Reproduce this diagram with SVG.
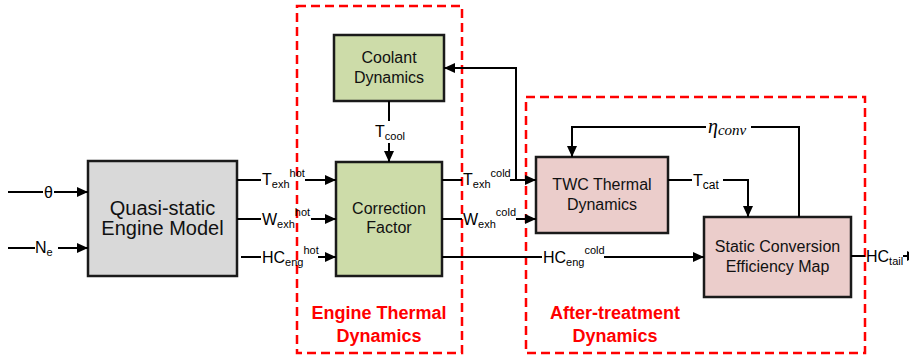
<svg xmlns="http://www.w3.org/2000/svg" width="909" height="360" viewBox="0 0 909 360">
<defs>
<marker id="arr" markerUnits="userSpaceOnUse" markerWidth="11" markerHeight="10" refX="11" refY="5" orient="auto">
<path d="M0,0 L11,5 L0,10 z" fill="#000"/>
</marker>
<style>
.box{stroke:#1a1a1a;stroke-width:2.5}
.gray{fill:#d9d9d9}
.green{fill:#cddca9}
.pink{fill:#ebcdcb}
.region{fill:none;stroke:#ff0000;stroke-width:2.5;stroke-dasharray:9 5}
.con{fill:none;stroke:#000;stroke-width:2}
.t{font-family:"Liberation Sans",Arial,sans-serif;fill:#111}
.bt{font-family:"Liberation Sans",Arial,sans-serif;font-size:16px;fill:#111;text-anchor:middle}
.lbl{font-family:"Liberation Sans",Arial,sans-serif;font-size:16px;fill:#000}
.sm{font-size:11px}
.rt{font-family:"Liberation Sans",Arial,sans-serif;font-size:18px;font-weight:bold;fill:#ff0000;text-anchor:middle}
.math{font-family:"Liberation Serif","Times New Roman",serif;font-style:italic;fill:#000}
</style>
</defs>
<rect width="909" height="360" fill="#fff"/>

<g id="region-engine">
<rect class="region" x="297" y="6" width="165" height="347"/>
<text class="rt" x="379" y="319">Engine Thermal</text>
<text class="rt" x="379" y="342">Dynamics</text>
</g>
<g id="region-aftertreatment">
<rect class="region" x="526" y="97" width="339" height="256"/>
<text class="rt" x="615" y="319">After-treatment</text>
<text class="rt" x="615" y="342">Dynamics</text>
</g>

<g id="engine-model">
<rect class="box gray" x="88" y="161" width="149" height="115"/>
<text class="t" x="162.5" y="215" font-size="20" text-anchor="middle">Quasi-static</text>
<text class="t" x="162.5" y="235" font-size="20" text-anchor="middle">Engine Model</text>
</g>
<g id="coolant-dynamics">
<rect class="box green" x="334" y="35" width="110" height="66"/>
<text class="bt" x="389" y="63">Coolant</text>
<text class="bt" x="389" y="83">Dynamics</text>
</g>
<g id="correction-factor">
<rect class="box green" x="336" y="162" width="106" height="114"/>
<text class="bt" x="389" y="214">Correction</text>
<text class="bt" x="389" y="233">Factor</text>
</g>
<g id="twc-thermal">
<rect class="box pink" x="536" y="157" width="132" height="76"/>
<text class="bt" x="602" y="190">TWC Thermal</text>
<text class="bt" x="602" y="210">Dynamics</text>
</g>
<g id="static-conversion">
<rect class="box pink" x="704" y="217" width="147" height="80"/>
<text class="bt" x="777.5" y="252">Static Conversion</text>
<text class="bt" x="777.5" y="272">Efficiency Map</text>
</g>

<g id="connectors">
<!-- inputs -->
<line class="con" x1="8" y1="192" x2="43" y2="192"/>
<line class="con" x1="54" y1="192" x2="88" y2="192" marker-end="url(#arr)"/>
<text class="lbl" x="48.5" y="198" text-anchor="middle">θ</text>
<line class="con" x1="8" y1="248" x2="35" y2="248"/>
<line class="con" x1="58" y1="248" x2="88" y2="248" marker-end="url(#arr)"/>
<text class="lbl" x="35" y="253">N<tspan class="sm" dy="3">e</tspan></text>

<!-- engine to correction -->
<line class="con" x1="237" y1="180" x2="261" y2="180"/>
<line class="con" x1="305" y1="180" x2="336" y2="180" marker-end="url(#arr)"/>
<text class="lbl" x="262" y="185">T<tspan class="sm" dy="3">exh</tspan><tspan class="sm" dy="-11">hot</tspan></text>

<line class="con" x1="237" y1="219" x2="261" y2="219"/>
<line class="con" x1="311" y1="219" x2="336" y2="219" marker-end="url(#arr)"/>
<text class="lbl" x="262" y="225">W<tspan class="sm" dy="3">exh</tspan><tspan class="sm" dy="-12">hot</tspan></text>

<line class="con" x1="241" y1="257" x2="261" y2="257"/>
<line class="con" x1="318" y1="257" x2="336" y2="257" marker-end="url(#arr)"/>
<text class="lbl" x="262" y="263">HC<tspan class="sm" dy="3">eng</tspan><tspan class="sm" dy="-12">hot</tspan></text>

<!-- coolant to correction -->
<line class="con" x1="389" y1="101" x2="389" y2="121"/>
<line class="con" x1="389" y1="143" x2="389" y2="162" marker-end="url(#arr)"/>
<text class="lbl" x="375" y="137">T<tspan class="sm" dy="3">cool</tspan></text>

<!-- correction to TWC -->
<line class="con" x1="442" y1="180" x2="462" y2="180"/>
<line class="con" x1="510" y1="180" x2="536" y2="180" marker-end="url(#arr)"/>
<text class="lbl" x="463" y="185">T<tspan class="sm" dy="3">exh</tspan><tspan class="sm" dy="-11">cold</tspan></text>

<line class="con" x1="442" y1="219" x2="462" y2="219"/>
<line class="con" x1="516" y1="219" x2="536" y2="219" marker-end="url(#arr)"/>
<text class="lbl" x="463" y="225">W<tspan class="sm" dy="3">exh</tspan><tspan class="sm" dy="-12">cold</tspan></text>

<!-- feedback to coolant -->
<polyline class="con" points="516,180 516,68 444,68" marker-end="url(#arr)"/>

<!-- HC eng cold -->
<line class="con" x1="442" y1="257" x2="542" y2="257"/>
<line class="con" x1="604" y1="257" x2="704" y2="257" marker-end="url(#arr)"/>
<text class="lbl" x="543" y="263">HC<tspan class="sm" dy="3">eng</tspan><tspan class="sm" dy="-12">cold</tspan></text>

<!-- T cat -->
<line class="con" x1="668" y1="180" x2="692" y2="180"/>
<polyline class="con" points="723,180 748,180 748,217" marker-end="url(#arr)"/>
<text class="lbl" x="693" y="186">T<tspan font-size="12" dy="3">cat</tspan></text>

<!-- eta conv feedback -->
<polyline class="con" points="799,217 799,127 751,127"/>
<polyline class="con" points="706,127 572,127 572,157" marker-end="url(#arr)"/>
<text class="math" x="708" y="133" font-size="20">η<tspan font-size="15" dy="2">conv</tspan></text>

<!-- HC tail -->
<line class="con" x1="851" y1="256" x2="865" y2="256"/>
<line class="con" x1="903" y1="256" x2="918" y2="256" marker-end="url(#arr)"/>
<text class="lbl" x="866" y="262">HC<tspan class="sm" dy="3">tail</tspan></text>
</g>
</svg>
